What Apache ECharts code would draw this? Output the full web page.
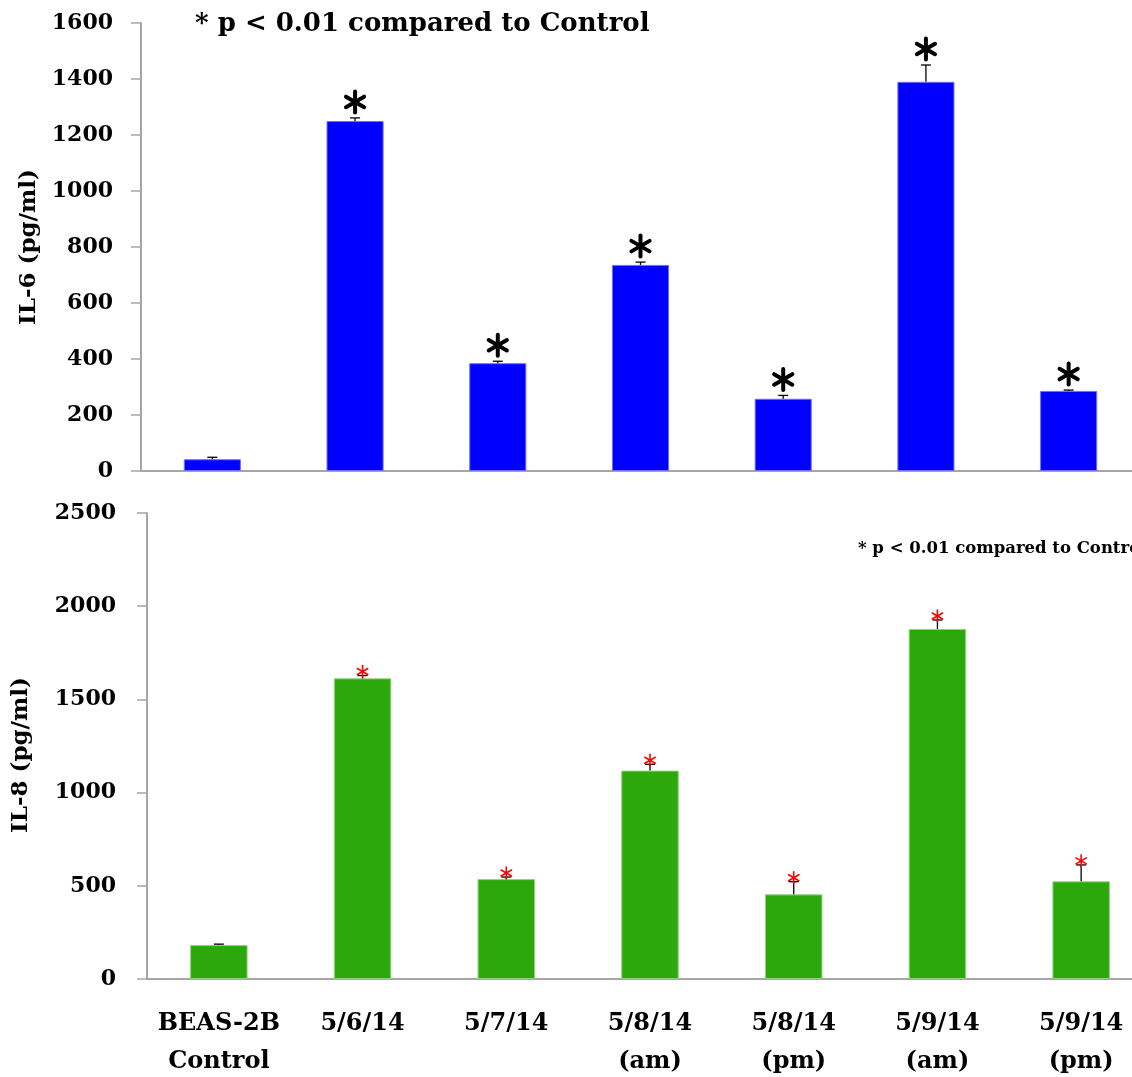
<!DOCTYPE html>
<html>
<head>
<meta charset="utf-8">
<script src="https://cdn.jsdelivr.net/npm/echarts@6/dist/echarts.min.js"></script>
<style>
  html, body { margin: 0; padding: 0; background: #fff; }
  #chart { width: 1132px; height: 1077px; }
</style>
</head>
<body>
<div id="chart"></div>
<script>
// Sample groups (shared by both panels)
const categories = ['BEAS-2B\nControl', '5/6/14', '5/7/14', '5/8/14\n(am)', '5/8/14\n(pm)', '5/9/14\n(am)', '5/9/14\n(pm)'];

// IL-6 secretion (pg/ml): means and upper error
const il6Mean = [42, 1250, 385, 736, 258, 1390, 286];
const il6Err  = [7, 11, 7, 10, 12, 60, 3];

// IL-8 secretion (pg/ml): means and upper error
const il8Mean = [182, 1613, 536, 1118, 454, 1878, 524];
const il8Err  = [5, 15, 11, 34, 68, 48, 88];

// p < 0.01 versus control
const significant = [false, true, true, true, true, true, true];

const il6Ticks = { min: 0, max: 1600, interval: 200 };
const il8Ticks = { min: 0, max: 2500, interval: 500 };

const SERIF = '"DejaVu Serif", Georgia, serif';

function errData(means, errs) {
  return means.map((m, i) => [i, m, m + errs[i], significant[i] ? 1 : 0]);
}

// Draws an upward error whisker with a cap, plus a six-armed asterisk above it
function makeErrRender(star) {
  return function (params, api) {
    const i = api.value(0);
    const base = api.coord([i, api.value(1)]);
    const top = api.coord([i, api.value(2)]);
    const children = [
      { type: 'line', shape: { x1: base[0], y1: base[1], x2: top[0], y2: top[1] },
        style: { stroke: '#000', lineWidth: 1.3 } },
      { type: 'line', shape: { x1: top[0] - 5, y1: top[1], x2: top[0] + 5, y2: top[1] },
        style: { stroke: '#000', lineWidth: 1.3 } }
    ];
    if (api.value(3)) {
      const cx = top[0];
      const cy = top[1] - star.offset;
      const r = star.r;
      [90, 30, -30].forEach(function (deg) {
        const a = deg * Math.PI / 180;
        const dx = Math.cos(a) * r, dy = Math.sin(a) * r;
        children.push({
          type: 'line',
          shape: { x1: cx - dx, y1: cy - dy, x2: cx + dx, y2: cy + dy },
          style: { stroke: star.color, lineWidth: star.width, lineCap: 'round' },
          z2: 10
        });
      });
    }
    return { type: 'group', children: children };
  };
}

const axisLine = { show: true, lineStyle: { color: '#a6a6a6', width: 2 } };
const yLabel = { fontFamily: SERIF, fontWeight: 'bold', fontSize: 22, color: '#000',
  formatter: function (v) { return String(v); } };
const yTick = { show: true, length: 10, lineStyle: { color: '#a6a6a6', width: 1.5 } };
const nameStyle = { fontFamily: SERIF, fontWeight: 'bold', fontSize: 23, color: '#000' };

const option = {
  backgroundColor: '#fff',
  animation: false,
  title: [
    { text: '* p < 0.01 compared to Control', left: 190, top: 6,
      textStyle: { fontFamily: SERIF, fontWeight: 'bold', fontSize: 26, color: '#000' } },
    { text: '* p < 0.01 compared to Control', left: 853, top: 535,
      textStyle: { fontFamily: SERIF, fontWeight: 'bold', fontSize: 16.5, color: '#000' } }
  ],
  grid: [
    { left: 141, top: 23, width: 999, height: 448, outerBoundsMode: 'none', containLabel: false },
    { left: 147, top: 513, width: 1006, height: 466, outerBoundsMode: 'none', containLabel: false }
  ],
  xAxis: [
    { type: 'category', gridIndex: 0, data: categories,
      axisLine: axisLine, axisTick: { show: false }, axisLabel: { show: false } },
    { type: 'category', gridIndex: 1, data: categories,
      axisLine: axisLine, axisTick: { show: false },
      axisLabel: { interval: 0, margin: 26, fontFamily: SERIF, fontWeight: 'bold',
        fontSize: 24, lineHeight: 38, color: '#000' } }
  ],
  yAxis: [
    { type: 'value', gridIndex: 0, min: il6Ticks.min, max: il6Ticks.max, interval: il6Ticks.interval,
      axisLine: axisLine, axisTick: yTick, splitLine: { show: false },
      axisLabel: Object.assign({ margin: 28 }, yLabel),
      name: 'IL-6 (pg/ml)', nameLocation: 'middle', nameGap: 100, nameTextStyle: nameStyle },
    { type: 'value', gridIndex: 1, min: il8Ticks.min, max: il8Ticks.max, interval: il8Ticks.interval,
      axisLine: axisLine, axisTick: yTick, splitLine: { show: false },
      axisLabel: Object.assign({ margin: 31 }, yLabel),
      name: 'IL-8 (pg/ml)', nameLocation: 'middle', nameGap: 114,
      nameTextStyle: Object.assign({ padding: [0, 18, 0, 0] }, nameStyle) }
  ],
  series: [
    { type: 'bar', xAxisIndex: 0, yAxisIndex: 0, data: il6Mean, barWidth: '40%',
      itemStyle: { color: '#0000ff', borderColor: '#6f6fff', borderWidth: 1 } },
    { type: 'custom', xAxisIndex: 0, yAxisIndex: 0, data: errData(il6Mean, il6Err),
      renderItem: makeErrRender({ r: 10.5, width: 4, offset: 16, color: '#000' }), z: 5 },
    { type: 'bar', xAxisIndex: 1, yAxisIndex: 1, data: il8Mean, barWidth: '40%',
      itemStyle: { color: '#2ca70c', borderColor: '#8fd47a', borderWidth: 1 } },
    { type: 'custom', xAxisIndex: 1, yAxisIndex: 1, data: errData(il8Mean, il8Err),
      renderItem: makeErrRender({ r: 6, width: 1.6, offset: 4, color: '#ff0000' }), z: 5 }
  ]
};

const chart = echarts.init(document.getElementById('chart'), null, { renderer: 'canvas' });
chart.setOption(option);
</script>
</body>
</html>
